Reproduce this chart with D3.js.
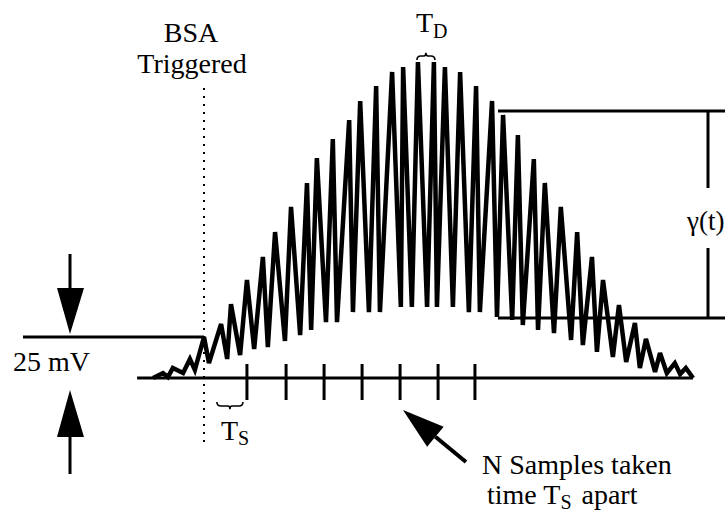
<!DOCTYPE html>
<meta charset="utf-8">

<!-- Load d3.js -->
<script src="https://d3js.org/d3.v7.js"></script>

<style>
  body { margin: 0; background: #fff; }
  text { font-family: "Liberation Serif", "Times New Roman", serif; fill: #000; }
</style>

<!-- Create a div where the graph will take place -->
<div id="my_dataviz"></div>

<script>

// waveform corners: time (sample units, 0 = BSA trigger) and voltage (mV)
const waveTime = [-13.4, -10.8, -9.5, -8.2, -5.5, -3.7, -2.4, 0, 1.3, 4.5,
  6.1, 7.1, 9.5, 11.3, 13.2, 15.5, 16.8, 18.7, 21.3, 22.9,
  25.3, 27.1, 28.2, 29.7, 32.1, 33.9, 35.0, 38.2, 39.2, 41.1,
  43.4, 45.3, 46.3, 49.5, 51.8, 52.4, 54.7, 56.3, 58.7, 60.5,
  61.3, 63.4, 65.5, 67.4, 69.7, 71.6, 72.6, 75.8, 77.1, 78.7,
  81.1, 82.6, 83.9, 86.8, 87.9, 89.7, 92.1, 93.9, 96.6, 98.2,
  99.7, 102.1, 103.4, 105.0, 107.6, 109.2, 111.1, 113.4, 114.7, 116.3,
  118.7, 120.0, 121.8, 123.9, 125.3, 126.8, 128.7];
const waveMv = [0, 3.0, 0.6, 6.1, 3.0, 11.6, 4.9, 25, 9.1, 32.9,
  11.6, 45.1, 14.0, 59.8, 17.7, 73.8, 18.9, 89.0, 22.6, 104.3,
  26.2, 118.9, 29.3, 134.1, 34.1, 145.7, 34.1, 157.3, 40.2, 168.9,
  40.2, 178.0, 40.2, 186.6, 43.3, 189.6, 43.3, 192.7, 43.3, 192.7,
  43.3, 189.6, 43.3, 186.6, 40.2, 178.0, 40.2, 168.9, 37.2, 160.4,
  35.4, 148.2, 32.3, 133.5, 29.3, 118.9, 27.4, 104.3, 23.2, 89.0,
  20.1, 73.8, 15.9, 59.8, 12.8, 44.5, 9.8, 33.5, 6.1, 23.8,
  3.7, 15.2, 3.0, 9.1, 2.4, 6.1, 0];

// sample instants, time axis extent, reference levels
const sampleTimes = [11.3, 21.6, 31.6, 41.6, 51.6, 61.6, 71.3];
const axisTime = [-17.6, 128.7];
const triggerTime = 0;
const refLevelMv = 25;
const gammaLevelsMv = [162.8, 36.6];
const tdPeaks = [56.3, 60.5];

const width = 725, height = 516;

const svg = d3.select("#my_dataviz")
  .append("svg")
    .attr("width", width)
    .attr("height", height);

// scales
const x = d3.scaleLinear().domain([0, 100]).range([204, 584]);
const y = d3.scaleLinear().domain([0, 25]).range([378, 337]);

const wave = waveTime.map((t, i) => [t, waveMv[i]]);

// time axis line
svg.append("line")
  .attr("x1", x(axisTime[0])).attr("x2", x(axisTime[1]))
  .attr("y1", y(0)).attr("y2", y(0))
  .attr("stroke", "#000").attr("stroke-width", 3);

// sample ticks
svg.append("g")
  .selectAll("line")
  .data(sampleTimes)
  .join("line")
    .attr("x1", d => x(d)).attr("x2", d => x(d))
    .attr("y1", y(0) - 14).attr("y2", y(0) + 22)
    .attr("stroke", "#000").attr("stroke-width", 3);

// the waveform
svg.append("path")
  .datum(wave)
  .attr("fill", "none")
  .attr("stroke", "#000")
  .attr("stroke-width", 4.5)
  .attr("stroke-linejoin", "miter")
  .attr("stroke-miterlimit", 3)
  .attr("d", d3.line().x(d => x(d[0])).y(d => y(d[1])));

// trigger dotted line
svg.append("line")
  .attr("x1", x(triggerTime)).attr("x2", x(triggerTime))
  .attr("y1", 88).attr("y2", 446)
  .attr("stroke", "#000").attr("stroke-width", 2)
  .attr("stroke-dasharray", "2,6");

// 25 mV level
svg.append("line")
  .attr("x1", 23).attr("x2", x(triggerTime))
  .attr("y1", y(refLevelMv)).attr("y2", y(refLevelMv))
  .attr("stroke", "#000").attr("stroke-width", 3);

// vertical arrows around 25 mV
svg.append("line")
  .attr("x1", 70).attr("x2", 70).attr("y1", 254).attr("y2", 292)
  .attr("stroke", "#000").attr("stroke-width", 3);
svg.append("path")
  .attr("d", "M57,288 L84,288 L70,334 Z");
svg.append("line")
  .attr("x1", 70).attr("x2", 70).attr("y1", 433).attr("y2", 474)
  .attr("stroke", "#000").attr("stroke-width", 3);
svg.append("path")
  .attr("d", "M57,437 L84,437 L70,390 Z");

svg.append("text")
  .attr("x", 13).attr("y", 371)
  .style("font-size", "28px")
  .text("25 mV");

// gamma(t) bracket
svg.append("g")
  .selectAll("line")
  .data(gammaLevelsMv)
  .join("line")
    .attr("x1", 498).attr("x2", width)
    .attr("y1", d => y(d)).attr("y2", d => y(d))
    .attr("stroke", "#000").attr("stroke-width", 3);
svg.append("line")
  .attr("x1", 708).attr("x2", 708)
  .attr("y1", y(gammaLevelsMv[0])).attr("y2", 188)
  .attr("stroke", "#000").attr("stroke-width", 3);
svg.append("line")
  .attr("x1", 708).attr("x2", 708)
  .attr("y1", 248).attr("y2", y(gammaLevelsMv[1]))
  .attr("stroke", "#000").attr("stroke-width", 3);
svg.append("text")
  .attr("x", 687).attr("y", 230)
  .style("font-size", "27px")
  .text("γ(t)");

// BSA Triggered label
svg.append("text")
  .attr("x", 191).attr("y", 42)
  .attr("text-anchor", "middle")
  .style("font-size", "28px")
  .text("BSA");
svg.append("text")
  .attr("x", 192).attr("y", 73)
  .attr("text-anchor", "middle")
  .style("font-size", "28px")
  .text("Triggered");

// braces
function brace(x0, x1, yb, h) {
  // h > 0 : tip points down, h < 0 : tip points up
  const m = (x0 + x1) / 2, r = 4;
  return `M${x0},${yb} Q${x0},${yb + h} ${x0 + r},${yb + h} L${m - 2},${yb + h} ` +
    `Q${m},${yb + h} ${m},${yb + 1.8 * h} Q${m},${yb + h} ${m + 2},${yb + h} ` +
    `L${x1 - r},${yb + h} Q${x1},${yb + h} ${x1},${yb}`;
}
svg.append("path")
  .attr("d", brace(x(tdPeaks[0]) - 1, x(tdPeaks[1]) + 1, 60, -4))
  .attr("fill", "none").attr("stroke", "#000").attr("stroke-width", 1.6);
svg.append("path")
  .attr("d", brace(x(3.4), x(sampleTimes[0]) - 4, 402, 4))
  .attr("fill", "none").attr("stroke", "#000").attr("stroke-width", 1.6);

// T_D
const td = svg.append("text")
  .attr("x", 416).attr("y", 32)
  .style("font-size", "28px");
td.append("tspan").text("T");
td.append("tspan").attr("dy", 6).style("font-size", "20px").text("D");

// T_S
const ts = svg.append("text")
  .attr("x", 221).attr("y", 440)
  .style("font-size", "28px");
ts.append("tspan").text("T");
ts.append("tspan").attr("dy", 5).style("font-size", "20px").text("S");

// N samples arrow
const tip = [403, 410], tail = [466, 462];
const ang = Math.atan2(tip[1] - tail[1], tip[0] - tail[0]);
const hl = 42, hw = 13;
const bx = tip[0] - hl * Math.cos(ang), by = tip[1] - hl * Math.sin(ang);
svg.append("line")
  .attr("x1", tail[0]).attr("y1", tail[1])
  .attr("x2", bx).attr("y2", by)
  .attr("stroke", "#000").attr("stroke-width", 4);
svg.append("path")
  .attr("d", `M${tip[0]},${tip[1]} L${bx + hw * Math.sin(ang)},${by - hw * Math.cos(ang)} L${bx - hw * Math.sin(ang)},${by + hw * Math.cos(ang)} Z`);

svg.append("text")
  .attr("x", 482).attr("y", 474)
  .style("font-size", "28px")
  .text("N Samples taken");
const tt = svg.append("text")
  .attr("x", 487).attr("y", 504)
  .style("font-size", "28px");
tt.append("tspan").text("time T");
tt.append("tspan").attr("dy", 5).style("font-size", "20px").text("S");
tt.append("tspan").attr("dy", -5).attr("dx", 10).text("apart");

</script>
